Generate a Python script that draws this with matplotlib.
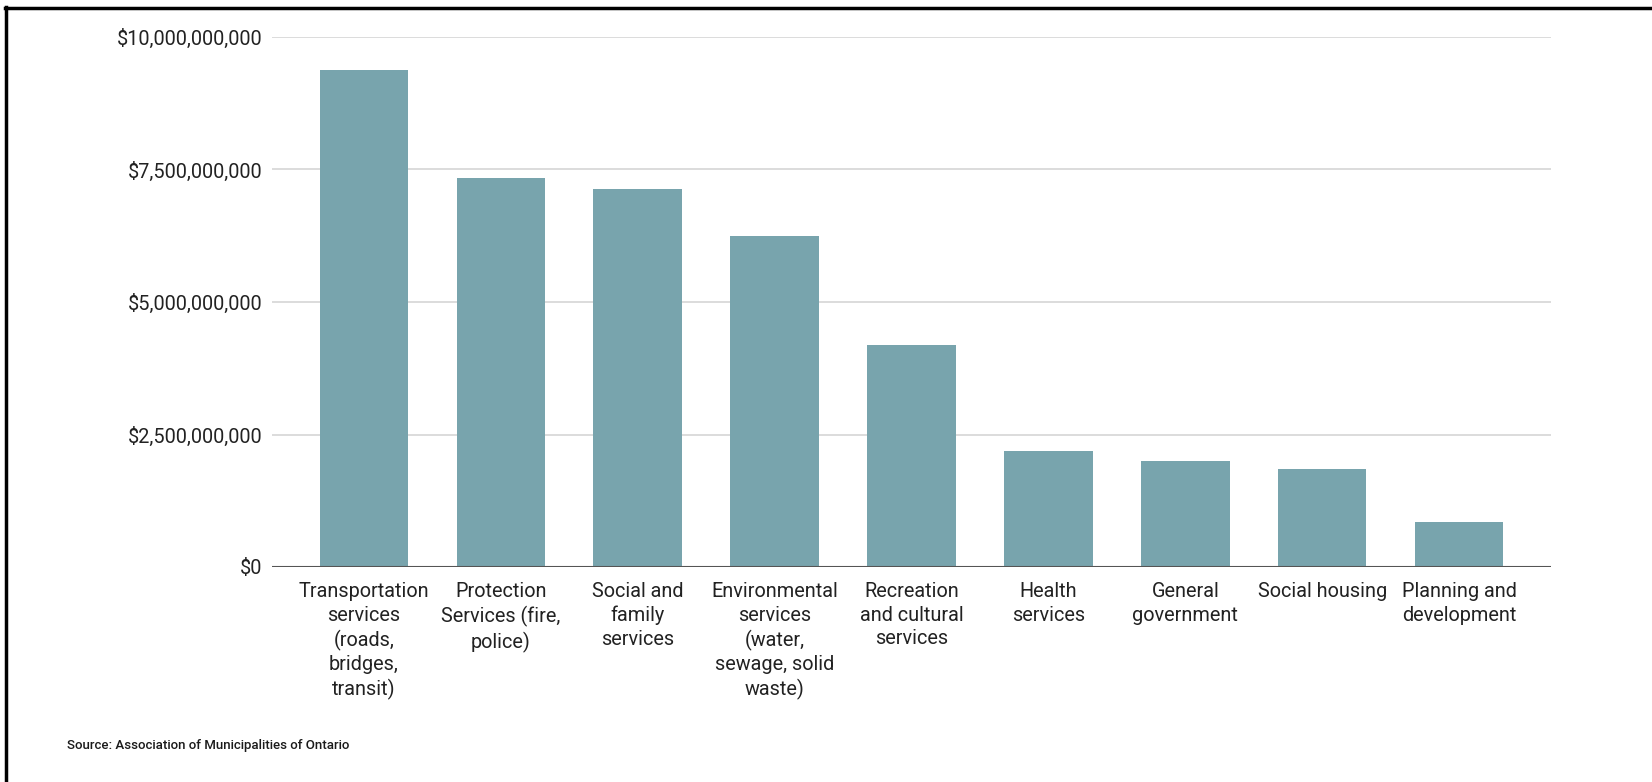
import matplotlib.pyplot as plt
import numpy as np
from matplotlib.ticker import FuncFormatter

plt.rcParams['font.family'] = ['Roboto', 'DejaVu Sans']

categories = [
    "Transportation\nservices\n(roads,\nbridges,\ntransit)",
    "Protection\nServices (fire,\npolice)",
    "Social and\nfamily\nservices",
    "Environmental\nservices\n(water,\nsewage, solid\nwaste)",
    "Recreation\nand cultural\nservices",
    "Health\nservices",
    "General\ngovernment",
    "Social housing",
    "Planning and\ndevelopment",
]
spending = [9.37e9, 7.34e9, 7.14e9, 6.25e9, 4.18e9, 2.19e9, 2.00e9, 1.85e9, 0.85e9]
yticks = [0, 2.5e9, 5e9, 7.5e9, 10e9]

fig = plt.figure(figsize=(16.52, 7.82), dpi=100)
ax = fig.add_axes([272 / 1652, 1 - 567 / 782, 1279 / 1652, 530 / 782])

x = np.arange(len(categories))
ax.bar(x, spending, width=0.645, color="#78a4ad", zorder=2)

ax.set_xlim(-0.67, len(categories) - 0.33)
ax.set_ylim(0, 10e9)
ax.set_yticks(yticks)
ax.yaxis.set_major_formatter(FuncFormatter(lambda v, p: f"${v:,.0f}"))
ax.grid(axis="y", color="#dcdcdc", linewidth=1.4, zorder=0)
ax.axhline(0, color="#555555", linewidth=1.5, zorder=3)

ax.set_xticks(x)
ax.set_xticklabels(categories, linespacing=1.3)
ax.tick_params(axis="both", length=0, labelsize=14.3, colors="#222222")
ax.tick_params(axis="x", pad=11)
ax.tick_params(axis="y", pad=7)
for s in ax.spines.values():
    s.set_visible(False)

fig.text(67 / 1652, 1 - 745 / 782, "Source: Association of Municipalities of Ontario",
         fontsize=9.5, weight="medium", color="#1a1a1a", va="center")

# frame around the image
fig.add_artist(plt.Line2D([6 / 1652, 6 / 1652], [0, 1 - 7 / 782], transform=fig.transFigure,
                          color="black", linewidth=2.5))
fig.add_artist(plt.Line2D([5 / 1652, 1], [1 - 8 / 782, 1 - 8 / 782], transform=fig.transFigure,
                          color="black", linewidth=2.5))

plt.savefig("out.png", dpi=100)
